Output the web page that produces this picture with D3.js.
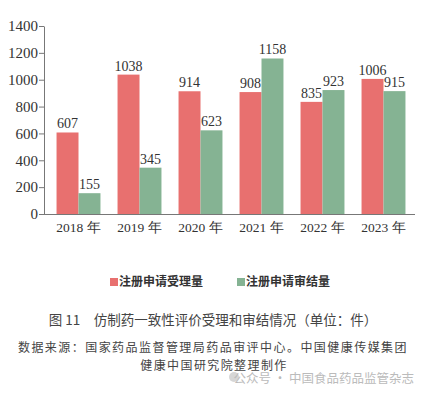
<!DOCTYPE html>
<html>
<head>
<meta charset="utf-8">
<script src="https://cdn.jsdelivr.net/npm/d3@7"></script>
<style>
body { margin: 0; background: #fff; }
svg { display: block; }
</style>
</head>
<body>
<div id="chart"></div>
<script>
// data
const years = ["2018 年", "2019 年", "2020 年", "2021 年", "2022 年", "2023 年"];
const accepted = [607, 1038, 914, 908, 835, 1006];   // 注册申请受理量
const concluded = [155, 345, 623, 1158, 923, 915];   // 注册申请审结量
const yTicks = [0, 200, 400, 600, 800, 1000, 1200, 1400];
const seriesNames = ["注册申请受理量", "注册申请审结量"];
const colors = ["#e8706f", "#85b393"];

const width = 430, height = 394;
const svg = d3.select("#chart").append("svg")
    .attr("width", width)
    .attr("height", height);

const serif = "'Liberation Serif', 'DejaVu Serif', serif";
const sans = "'Noto Sans CJK SC', 'Noto Sans', sans-serif";

var x = d3.scaleBand().domain(years).range([48, 414]).paddingInner(0.28).paddingOuter(0.14);
var xs = d3.scaleBand().domain([0, 1]).range([0, x.bandwidth()]);
var y = d3.scaleLinear().domain([0, 1400]).range([214, 26]);

// y axis
var yAxis = svg.append("g")
    .attr("transform", "translate(44,0)")
    .call(d3.axisLeft(y).tickValues(yTicks).tickFormat(d3.format("d")).tickSize(5).tickPadding(1).tickSizeOuter(0));
yAxis.select(".domain").attr("stroke", "#777");
yAxis.selectAll(".tick line").attr("stroke", "#777");
yAxis.selectAll("text")
    .attr("fill", "#333")
    .style("font-family", serif)
    .style("font-size", "15px");

// x axis
var xAxis = svg.append("g")
    .attr("transform", "translate(0,214)")
    .call(d3.axisBottom(x).tickSize(0).tickPadding(8));
xAxis.select(".domain").attr("d", "M44,0.5H415").attr("stroke", "#777");
xAxis.selectAll("text")
    .attr("fill", "#333")
    .style("font-family", serif)
    .style("font-size", "13.5px");

var rows = years.map((yr, i) => ({ year: yr, vals: [accepted[i], concluded[i]] }));

var group = svg.append("g")
    .selectAll("g")
    .data(rows)
    .enter().append("g")
    .attr("transform", d => "translate(" + x(d.year) + ",0)");

group.selectAll("rect")
    .data(d => d.vals.map((v, k) => ({ k: k, v: v })))
    .enter().append("rect")
    .attr("x", d => xs(d.k))
    .attr("width", xs.bandwidth())
    .attr("y", d => y(d.v))
    .attr("height", d => y(0) - y(d.v))
    .attr("fill", d => colors[d.k]);

group.selectAll("text")
    .data(d => d.vals.map((v, k) => ({ k: k, v: v })))
    .enter().append("text")
    .attr("x", d => xs(d.k) + xs.bandwidth() / 2)
    .attr("y", d => y(d.v) - 4)
    .attr("text-anchor", "middle")
    .attr("fill", "#333")
    .style("font-family", serif)
    .style("font-size", "14px")
    .text(d => d.v);

// legend
var legendX = [110, 237];
var legend = svg.append("g")
    .selectAll("g")
    .data(seriesNames)
    .enter().append("g")
    .attr("transform", (d, i) => "translate(" + legendX[i] + ",278)");
legend.append("rect")
    .attr("width", 8).attr("height", 8)
    .attr("fill", (d, i) => colors[i]);
legend.append("text")
    .attr("x", 9).attr("y", 8)
    .attr("fill", "#333")
    .style("font-family", sans)
    .style("font-size", "12px")
    .style("font-weight", "bold")
    .text(d => d);

// caption
svg.append("text")
    .attr("x", 213).attr("y", 325)
    .attr("text-anchor", "middle")
    .attr("fill", "#444")
    .style("font-family", sans)
    .style("font-size", "13.5px")
    .text("图 11\u2003仿制药一致性评价受理和审结情况（单位：件）");

svg.append("text")
    .attr("x", 213).attr("y", 352)
    .attr("text-anchor", "middle")
    .attr("fill", "#444")
    .style("font-family", sans)
    .style("font-size", "12px")
    .style("letter-spacing", "1.45px")
    .text("数据来源：国家药品监督管理局药品审评中心。中国健康传媒集团");

svg.append("text")
    .attr("x", 214).attr("y", 370)
    .attr("text-anchor", "middle")
    .attr("fill", "#444")
    .style("font-family", sans)
    .style("font-size", "12px")
    .style("letter-spacing", "1.4px")
    .text("健康中国研究院整理制作");

// watermark
svg.append("circle").attr("cx", 234).attr("cy", 377).attr("r", 5).attr("fill", "#ccc").attr("opacity", 0.8);
svg.append("text")
    .attr("x", 414).attr("y", 383)
    .attr("text-anchor", "end")
    .attr("fill", "#bbb")
    .style("font-family", sans)
    .style("font-size", "12.5px")
    .text("公众号 · 中国食品药品监管杂志");
</script>
</body>
</html>
